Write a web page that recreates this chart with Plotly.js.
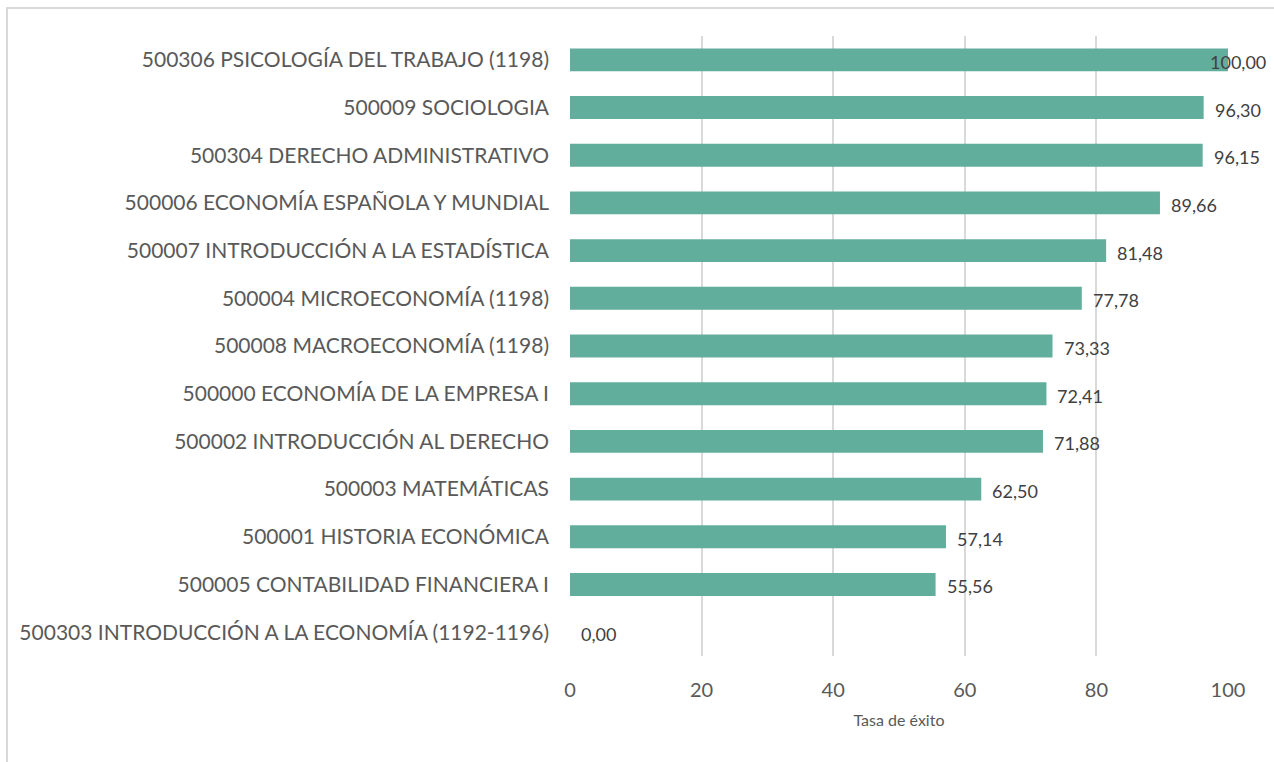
<!DOCTYPE html>
<html><head><meta charset="utf-8">
<script src="https://cdn.plot.ly/plotly-3.0.1.min.js"></script>
<style>
html,body{margin:0;padding:0;background:#fff;}
#frame{position:absolute;left:6px;top:7px;width:1300px;height:800px;border-left:2px solid #d9d9d9;border-top:2px solid #d9d9d9;pointer-events:none;z-index:5;}
</style></head>
<body>
<div id="chart" style="width:1274px;height:762px;"></div>
<div id="frame"></div>
<script>
const categories = [
  "500306 PSICOLOGÍA DEL TRABAJO (1198)",
  "500009 SOCIOLOGIA",
  "500304 DERECHO ADMINISTRATIVO",
  "500006 ECONOMÍA ESPAÑOLA Y MUNDIAL",
  "500007 INTRODUCCIÓN A LA ESTADÍSTICA",
  "500004 MICROECONOMÍA (1198)",
  "500008 MACROECONOMÍA (1198)",
  "500000 ECONOMÍA DE LA EMPRESA I",
  "500002 INTRODUCCIÓN AL DERECHO",
  "500003 MATEMÁTICAS",
  "500001 HISTORIA ECONÓMICA",
  "500005 CONTABILIDAD FINANCIERA I",
  "500303 INTRODUCCIÓN A LA ECONOMÍA (1192-1196)"
];
const values = [100.00, 96.30, 96.15, 89.66, 81.48, 77.78, 73.33, 72.41, 71.88, 62.50, 57.14, 55.56, 0.00];
const xTicks = [0, 20, 40, 60, 80, 100];
const axisTitle = "Tasa de éxito";

const fmt = v => v.toFixed(2).replace('.', ',');
const FONT = "Lato, 'Open Sans', sans-serif";

const annotations = categories.map((c, i) => {
  const v = values[i];
  const big = v > 98;
  return {
    x: v, y: c, xref: 'x', yref: 'y',
    text: fmt(v), showarrow: false,
    xanchor: big ? 'right' : 'left',
    xshift: big ? 40 : 9, yshift: -2,
    font: {family: FONT, size: 18, color: '#404040'}
  };
});

const trace = {
  type: 'bar', orientation: 'h',
  x: values, y: categories,
  marker: {color: '#62AE9C', line: {width: 0}},
  hoverinfo: 'x+y'
};

const layout = {
  width: 1274, height: 762,
  margin: {l: 570, r: 46, t: 36, b: 106},
  paper_bgcolor: '#ffffff', plot_bgcolor: '#ffffff',
  bargap: 0.52,
  showlegend: false,
  font: {family: FONT, color: '#595959'},
  xaxis: {
    range: [0, 100], tickvals: xTicks, ticktext: xTicks.map(String),
    showgrid: true, gridcolor: '#d9d9d9', gridwidth: 2,
    zeroline: false, showline: false, ticks: '',
    tickfont: {family: FONT, size: 20, color: '#595959'},
    ticklabelstandoff: 20,
    title: {text: axisTitle, font: {family: FONT, size: 16, color: '#595959'}, standoff: 14}
  },
  yaxis: {
    autorange: 'reversed', type: 'category',
    showgrid: false, zeroline: false, showline: false, ticks: '',
    tickfont: {family: FONT, size: 21, color: '#595959'},
    ticklabelstandoff: 20
  },
  annotations: annotations
};

Plotly.newPlot('chart', [trace], layout, {displayModeBar: false, staticPlot: true});
</script>
</body></html>
